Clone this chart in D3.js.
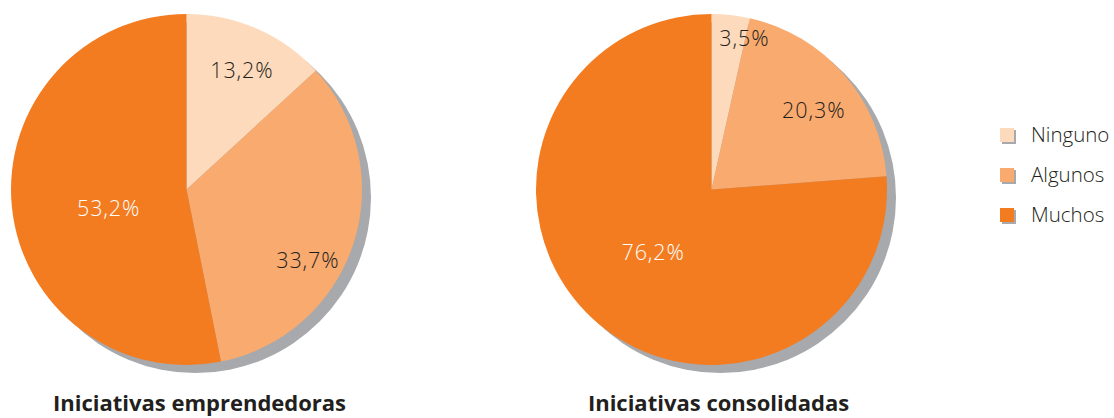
<!DOCTYPE html>
<html>
<head>
<meta charset="utf-8">
<script src="https://cdn.jsdelivr.net/npm/d3@7"></script>
<style>
  html, body { margin: 0; padding: 0; background: #ffffff; }
  svg { display: block; }
</style>
</head>
<body>
<svg id="chart" width="1114" height="418"></svg>
<script>
// ---- data ----
const categories = ["Ninguno", "Algunos", "Muchos"];
const emprendedoras = [13.2, 33.7, 53.2];
const consolidadas = [3.5, 20.3, 76.2];
const labelsEmprendedoras = ["13,2%", "33,7%", "53,2%"];
const labelsConsolidadas = ["3,5%", "20,3%", "76,2%"];
const titles = ["Iniciativas emprendedoras", "Iniciativas consolidadas"];

// ---- styling / layout ----
const colors = ["#fddabb", "#f9aa6f", "#f37c21"];
const labelColors = ["#231f20", "#231f20", "#ffffff"];
const shadowColor = "#a7a9ac";
const R = 175.5;
const font = "'Open Sans', 'Noto Sans', sans-serif";

const pies = [
  { values: emprendedoras, labels: labelsEmprendedoras, title: titles[0], cx: 186.5, cy: 189.5, titleX: 199.5,
    labelR: [0.748, 0.80, 0.457], labelNudge: [1.2, 12.1, -8.1] },
  { values: consolidadas, labels: labelsConsolidadas, title: titles[1], cx: 711.5, cy: 189.5, titleX: 718.5,
    labelR: [0.88, 0.736, 0.489], labelNudge: [6, 3.2, 0] }
];

const svg = d3.select("#chart");
const color = d3.scaleOrdinal().domain(categories).range(colors);
const pieGen = d3.pie().sort(null).value(d => d.value);
const arc = d3.arc().innerRadius(0).outerRadius(R);

pies.forEach(p => {
  const g = svg.append("g").attr("transform", `translate(${p.cx},${p.cy})`);
  // shadow
  g.append("circle").attr("cx", 9).attr("cy", 8).attr("r", R).attr("fill", shadowColor);
  const data = pieGen(p.values.map((v, i) => ({ value: v, cat: categories[i], label: p.labels[i], i })));
  g.selectAll("path.slice").data(data).enter().append("path")
    .attr("class", "slice")
    .attr("d", arc)
    .attr("fill", d => color(d.data.cat));
  g.selectAll("text.lbl").data(data).enter().append("text")
    .attr("class", "lbl")
    .attr("transform", d => {
      const a = (d.startAngle + d.endAngle) / 2 + p.labelNudge[d.data.i] * Math.PI / 180;
      const r = R * p.labelR[d.data.i];
      return `translate(${r * Math.sin(a)},${-r * Math.cos(a)})`;
    })
    .attr("text-anchor", "middle")
    .attr("dy", "0.36em")
    .attr("font-family", font)
    .attr("font-weight", 300)
    .attr("font-size", 21.5)
    .attr("letter-spacing", 0.9)
    .attr("fill", d => labelColors[d.data.i])
    .text(d => d.data.label);
  svg.append("text")
    .attr("x", p.titleX).attr("y", 411)
    .attr("text-anchor", "middle")
    .attr("font-family", font)
    .attr("font-weight", 700)
    .attr("font-size", 22)
    .attr("fill", "#231f20")
    .text(p.title);
});

// legend
const legend = svg.append("g").attr("transform", "translate(1000,0)");
const ly = d3.scalePoint().domain(categories).range([135, 215]);
categories.forEach(c => {
  const row = legend.append("g").attr("transform", `translate(0,${ly(c)})`);
  row.append("rect").attr("x", 2).attr("y", -5).attr("width", 14).attr("height", 14).attr("fill", shadowColor);
  row.append("rect").attr("x", 0).attr("y", -7).attr("width", 14).attr("height", 14).attr("fill", color(c));
  row.append("text").attr("x", 31).attr("y", 0).attr("dy", "0.36em")
    .attr("font-family", font).attr("font-weight", 300).attr("font-size", 20.5)
    .attr("fill", "#231f20").text(c);
});
</script>
</body>
</html>
